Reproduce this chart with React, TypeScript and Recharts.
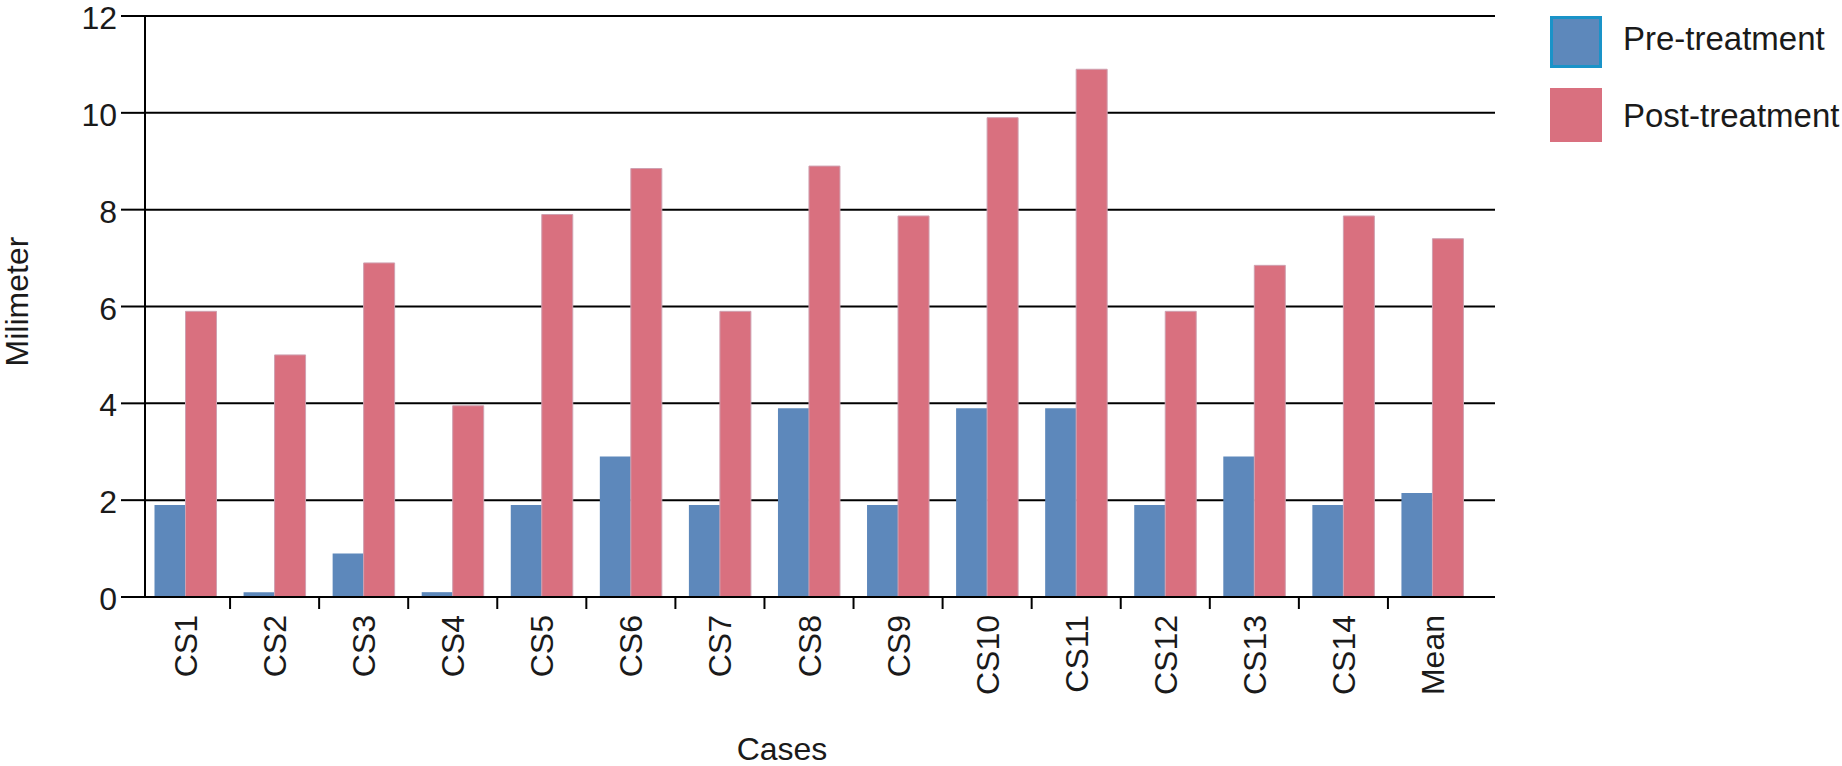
import React from 'react';
import { BarChart, Bar, XAxis, YAxis, CartesianGrid, Legend, Label } from 'recharts';

const categories = ['CS1', 'CS2', 'CS3', 'CS4', 'CS5', 'CS6', 'CS7', 'CS8', 'CS9', 'CS10', 'CS11', 'CS12', 'CS13', 'CS14', 'Mean'];
const preValues = [1.9, 0.1, 0.9, 0.1, 1.9, 2.9, 1.9, 3.9, 1.9, 3.9, 3.9, 1.9, 2.9, 1.9, 2.15];
const postValues = [5.9, 5.0, 6.9, 3.95, 7.9, 8.85, 5.9, 8.9, 7.87, 9.9, 10.9, 5.9, 6.85, 7.87, 7.4];
const yTicks = [0, 2, 4, 6, 8, 10, 12];
const seriesNames = ['Pre-treatment', 'Post-treatment'];
const xTitle = 'Cases';
const yTitle = 'Milimeter';

const data = categories.map((name, i) => ({ name, pre: preValues[i], post: postValues[i] }));

const FONT = '"Liberation Sans", Arial, Helvetica, sans-serif';
const TEXT = '#1a1a1a';
const PRE = '#5d88bb';
const POST = '#d9707f';

const XTick = (props: any) => {
  const { x, y, payload, index } = props;
  const off = payload && typeof payload.offset === 'number' ? payload.offset : 44.5;
  const ay = y + 18;
  return (
    <g>
      {index > 0 && (
        <line x1={x - off} x2={x - off} y1={y} y2={y + 12} stroke="#000" strokeWidth={2} />
      )}
      <text
        x={x}
        y={ay}
        transform={`rotate(-90 ${x} ${ay})`}
        textAnchor="end"
        dy="0.36em"
        fontSize={32}
        fontFamily={FONT}
        fill={TEXT}
      >
        {payload.value}
      </text>
    </g>
  );
};

const YTick = (props: any) => {
  const { x, y, payload } = props;
  return (
    <text x={x} y={y} dy="0.41em" textAnchor="end" fontSize={32} fontFamily={FONT} fill={TEXT}>
      {payload.value}
    </text>
  );
};

const renderLegend = (props: any) => {
  const payload = [...(props.payload || [])].sort(
    (a: any, b: any) => seriesNames.indexOf(a.value) - seriesNames.indexOf(b.value)
  );
  return (
    <svg width={292} height={150} style={{ display: 'block' }}>
      {payload.map((item: any, i: number) => {
        const isPre = i === 0;
        const top = isPre ? 0 : 72;
        return (
          <g key={i}>
            <rect
              x={isPre ? 1.5 : 0}
              y={top + (isPre ? 1.5 : 0)}
              width={isPre ? 49 : 52}
              height={isPre ? 49 : 54}
              fill={item.color}
              stroke={isPre ? '#1a93c8' : 'none'}
              strokeWidth={isPre ? 3 : 0}
            />
            <text
              x={73}
              y={isPre ? 34 : 111}
              fontSize={33}
              fontFamily={FONT}
              fill={TEXT}
            >
              {item.value}
            </text>
          </g>
        );
      })}
    </svg>
  );
};

export default function App() {
  return (
    <div style={{ width: 1842, height: 766, background: '#fff', position: 'relative' }}>
      <style>{`body{margin:0;background:#fff}`}</style>
      <BarChart
        width={1842}
        height={766}
        data={data}
        margin={{ top: 16, right: 347, bottom: 0, left: 0 }}
        barCategoryGap={13.5}
        barGap={0}
      >
        <CartesianGrid vertical={false} stroke="#000" strokeWidth={2} />
        <XAxis
          dataKey="name"
          height={169}
          interval={0}
          padding={{ left: -4, right: 18 }}
          tickLine={false}
          tickSize={0}
          tickMargin={0}
          axisLine={{ stroke: '#000', strokeWidth: 2 }}
          tick={<XTick />}
        >
          <Label
            content={(p: any) => {
              const vb = p.viewBox || { x: 145, y: 597, width: 1350, height: 169 };
              return (
                <text
                  x={vb.x + vb.width / 2 - 38}
                  y={760}
                  textAnchor="middle"
                  fontSize={32}
                  fontFamily={FONT}
                  fill={TEXT}
                >
                  {xTitle}
                </text>
              );
            }}
          />
        </XAxis>
        <YAxis
          width={145}
          domain={[0, 12]}
          ticks={yTicks}
          interval={0}
          tickSize={24}
          tickMargin={4}
          axisLine={{ stroke: '#000', strokeWidth: 2 }}
          tickLine={{ stroke: '#000', strokeWidth: 2 }}
          tick={<YTick />}
        >
          <Label
            content={(p: any) => {
              const vb = p.viewBox || { x: 0, y: 16, width: 145, height: 581 };
              const cy = vb.y + vb.height / 2 - 5;
              return (
                <text
                  x={16}
                  y={cy}
                  transform={`rotate(-90 16 ${cy})`}
                  textAnchor="middle"
                  dy="0.36em"
                  fontSize={32}
                  fontFamily={FONT}
                  fill={TEXT}
                >
                  {yTitle}
                </text>
              );
            }}
          />
        </YAxis>
        <YAxis
          yAxisId="r"
          orientation="right"
          width={0}
          domain={[0, 12]}
          tick={false}
          tickLine={false}
          axisLine={{ stroke: '#000', strokeWidth: 2 }}
        />
        <Legend
          layout="vertical"
          align="center"
          verticalAlign="middle"
          content={renderLegend}
          wrapperStyle={{ position: 'absolute', left: 1550, top: 16, width: 292, height: 150 }}
        />
        <Bar dataKey="pre" name={seriesNames[0]} fill={PRE} isAnimationActive={false} />
        <Bar dataKey="post" name={seriesNames[1]} fill={POST} stroke="#cfa0b0" strokeWidth={1} isAnimationActive={false} />
      </BarChart>
    </div>
  );
}
